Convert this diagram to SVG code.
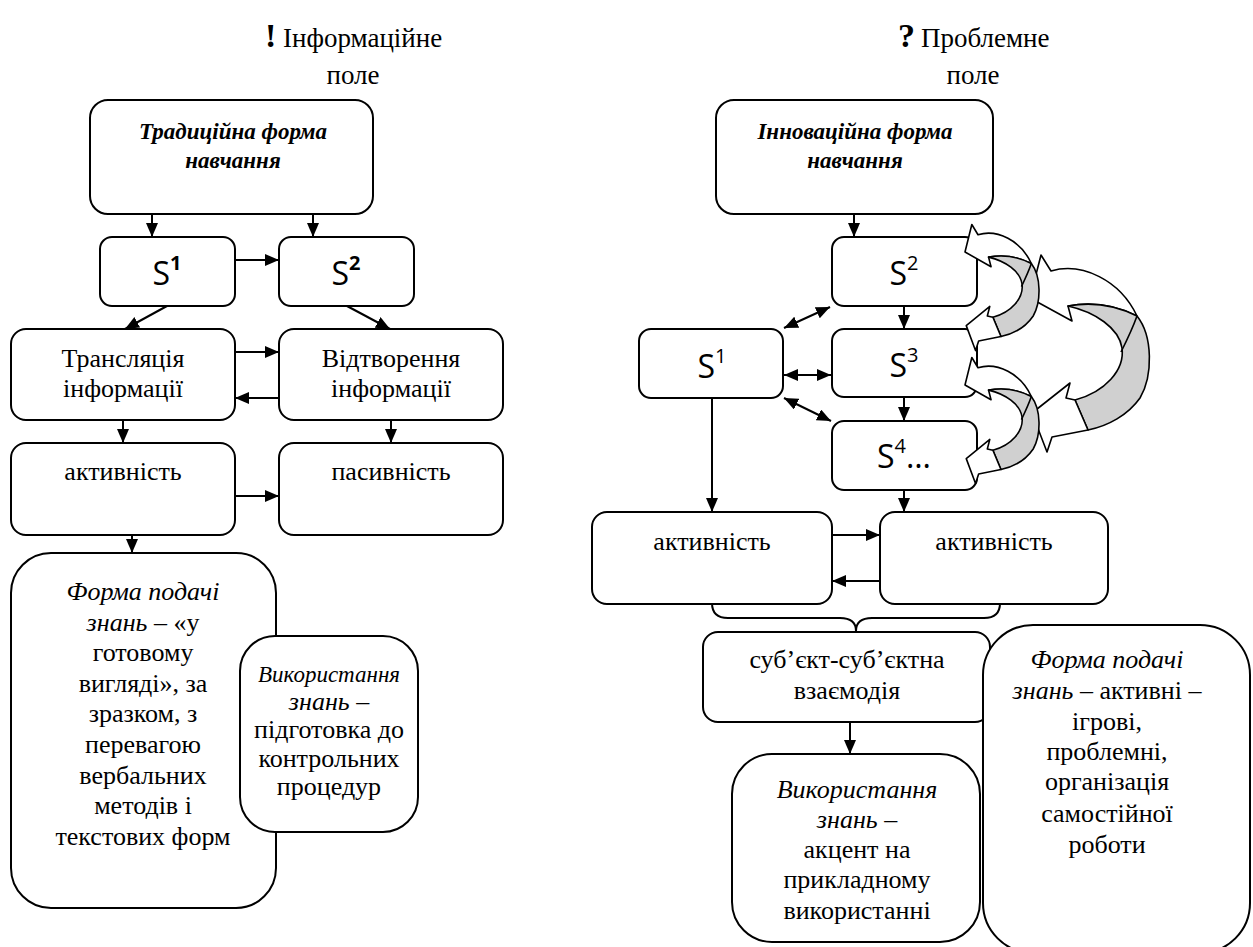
<svg xmlns="http://www.w3.org/2000/svg" width="1253" height="947" viewBox="0 0 1253 947">
  <defs>
    <style>
      .box{fill:#fff;stroke:#000;stroke-width:2}
      .t{font-family:"Liberation Serif","Liberation Sans",sans-serif;font-size:26px;text-anchor:middle;fill:#000}
      .i{font-style:italic}
      .h{font-family:"Liberation Serif","Liberation Sans",sans-serif;font-size:27px;fill:#000}
      .mark{font-family:"Liberation Serif",serif;font-size:34px;font-weight:bold;fill:#000}
      .title{font-family:"Liberation Serif","Liberation Sans",sans-serif;font-size:23px;font-weight:bold;font-style:italic;text-anchor:middle;fill:#000}
      .s{font-family:"Open Sans","Noto Sans",sans-serif;font-size:32px;text-anchor:middle;fill:#000}
      .ln{stroke:#000;stroke-width:2;fill:none}
      .arr{marker-end:url(#ah)}
      .dbl{marker-start:url(#ahs);marker-end:url(#ah)}
      .cw{fill:#fff;stroke:#000;stroke-width:1.6;stroke-linejoin:round;vector-effect:non-scaling-stroke}
      .cg{fill:#d0d0d0;stroke:#000;stroke-width:1.6;stroke-linejoin:round;vector-effect:non-scaling-stroke}
      .fold{fill:none;stroke:#000;stroke-width:1.6;vector-effect:non-scaling-stroke}
    </style>
    <marker id="ah" markerWidth="14" markerHeight="12" refX="14" refY="6" orient="auto" markerUnits="userSpaceOnUse">
      <path d="M0,0 L14,6 L0,12 Z" fill="#000"/>
    </marker>
    <marker id="ahs" markerWidth="14" markerHeight="12" refX="14" refY="6" orient="auto-start-reverse" markerUnits="userSpaceOnUse">
      <path d="M0,0 L14,6 L0,12 Z" fill="#000"/>
    </marker>
    <!-- curved block arrow: white front band, grey back band, two heads -->
    <g id="curl">
      <path class="cw" d="M1030,298 L1041,255 L1051,271 C1082,262 1120,280 1137,316 C1115,305 1090,302 1068,306 L1072,321 Z"/>
      <path class="cg" d="M1068,306 C1090,302 1115,305 1137,316 C1153,336 1153,376 1140,398 C1128,415 1108,426 1088,430 L1075,400 C1105,392 1125,370 1122,348 C1119,328 1095,312 1068,306 Z"/>
      <path class="fold" d="M1137,316 C1132,330 1126,342 1121,352"/>
      <path class="cw" d="M1032,413 L1070,383 L1066,398 L1075,400 L1088,430 L1052,437 L1047,452 Z"/>
    </g>
  </defs>

  <rect width="1253" height="947" fill="#fff"/>

  <!-- headings -->
  <g id="head-left">
    <text class="mark" x="265" y="47">!</text>
    <text class="h" x="283" y="47">Інформаційне</text>
    <text class="h" x="353" y="84" text-anchor="middle">поле</text>
  </g>
  <g id="head-right">
    <text class="mark" x="898" y="47">?</text>
    <text class="h" x="921" y="47">Проблемне</text>
    <text class="h" x="973" y="84" text-anchor="middle">поле</text>
  </g>

  <!-- left column: traditional form -->
  <g id="trad">
    <rect class="box" x="90" y="100" width="283" height="114" rx="18"/>
    <text class="title" x="233" y="139">Традиційна форма</text>
    <text class="title" x="233" y="168">навчання</text>
  </g>
  <g id="l-s1">
    <rect class="box" x="100" y="237" width="135" height="69" rx="12"/>
    <text class="s" x="167" y="285">S<tspan font-size="20" font-weight="bold" dy="-15">1</tspan></text>
  </g>
  <g id="l-s2">
    <rect class="box" x="279" y="237" width="135" height="69" rx="12"/>
    <text class="s" x="346" y="285">S<tspan font-size="20" font-weight="bold" dy="-15">2</tspan></text>
  </g>
  <g id="transl">
    <rect class="box" x="11" y="329" width="224" height="91" rx="15"/>
    <text class="t" x="123" y="367">Трансляція</text>
    <text class="t" x="123" y="397">інформації</text>
  </g>
  <g id="vidtv">
    <rect class="box" x="279" y="329" width="224" height="91" rx="15"/>
    <text class="t" x="391" y="367">Відтворення</text>
    <text class="t" x="391" y="397">інформації</text>
  </g>
  <g id="l-akt">
    <rect class="box" x="11" y="443" width="224" height="92" rx="15"/>
    <text class="t" x="123" y="480">активність</text>
  </g>
  <g id="l-pas">
    <rect class="box" x="279" y="443" width="224" height="92" rx="15"/>
    <text class="t" x="391" y="480">пасивність</text>
  </g>
  <g id="l-forma">
    <rect class="box" x="11" y="553" width="265" height="355" rx="40"/>
    <text class="t" x="143" y="600"><tspan class="i">Форма подачі</tspan></text>
    <text class="t" x="143" y="631"><tspan class="i">знань</tspan> – «у</text>
    <text class="t" x="143" y="661">готовому</text>
    <text class="t" x="143" y="692">вигляді»,  за</text>
    <text class="t" x="143" y="722">зразком, з</text>
    <text class="t" x="143" y="753">перевагою</text>
    <text class="t" x="143" y="784">вербальних</text>
    <text class="t" x="143" y="814">методів і</text>
    <text class="t" x="143" y="845">текстових форм</text>
  </g>
  <g id="l-vykor">
    <rect class="box" x="240" y="636" width="178" height="196" rx="35"/>
    <text class="t" x="329" y="682" style="font-size:23px"><tspan class="i">Використання</tspan></text>
    <text class="t" x="329" y="710"><tspan class="i">знань</tspan> –</text>
    <text class="t" x="329" y="738">підготовка до</text>
    <text class="t" x="329" y="767">контрольних</text>
    <text class="t" x="329" y="795">процедур</text>
  </g>

  <!-- right column: innovative form -->
  <g id="innov">
    <rect class="box" x="716" y="100" width="277" height="114" rx="18"/>
    <text class="title" x="855" y="139">Інноваційна форма</text>
    <text class="title" x="855" y="168">навчання</text>
  </g>
  <g id="r-s2">
    <rect class="box" x="832" y="237" width="145" height="69" rx="12"/>
    <text class="s" x="904" y="285">S<tspan font-size="20" dy="-15">2</tspan></text>
  </g>
  <g id="r-s3">
    <rect class="box" x="832" y="329" width="145" height="68" rx="12"/>
    <text class="s" x="904" y="377">S<tspan font-size="20" dy="-15">3</tspan></text>
  </g>
  <g id="r-s4">
    <rect class="box" x="832" y="421" width="145" height="69" rx="12"/>
    <text class="s" x="904" y="468">S<tspan font-size="20" dy="-15">4</tspan><tspan dy="15">…</tspan></text>
  </g>
  <g id="r-s1">
    <rect class="box" x="639" y="329" width="144" height="69" rx="12"/>
    <text class="s" x="712" y="378">S<tspan font-size="20" dy="-15">1</tspan></text>
  </g>
  <g id="r-akt1">
    <rect class="box" x="592" y="512" width="240" height="92" rx="15"/>
    <text class="t" x="712" y="550">активність</text>
  </g>
  <g id="r-akt2">
    <rect class="box" x="880" y="512" width="228" height="92" rx="15"/>
    <text class="t" x="994" y="550">активність</text>
  </g>
  <g id="subj">
    <rect class="box" x="703" y="632" width="287" height="90" rx="15"/>
    <text class="t" x="847" y="668">суб’єкт-суб’єктна</text>
    <text class="t" x="847" y="699">взаємодія</text>
  </g>
  <g id="r-forma">
    <rect class="box" x="983" y="625" width="267" height="328" rx="50"/>
    <text class="t" x="1107" y="668"><tspan class="i">Форма подачі</tspan></text>
    <text class="t" x="1107" y="699"><tspan class="i">знань</tspan> – активні –</text>
    <text class="t" x="1107" y="730">ігрові,</text>
    <text class="t" x="1107" y="760">проблемні,</text>
    <text class="t" x="1107" y="790">організація</text>
    <text class="t" x="1107" y="822">самостійної</text>
    <text class="t" x="1107" y="853">роботи</text>
  </g>
  <g id="r-vykor">
    <rect class="box" x="732" y="754" width="248" height="188" rx="40"/>
    <text class="t" x="857" y="798"><tspan class="i">Використання</tspan></text>
    <text class="t" x="857" y="828"><tspan class="i">знань</tspan> –</text>
    <text class="t" x="857" y="858">акцент на</text>
    <text class="t" x="857" y="888">прикладному</text>
    <text class="t" x="857" y="919">використанні</text>
  </g>

  <!-- curved feedback arrows beside S2..S4 -->
  <g id="loops">
    <use href="#curl"/>
    <g transform="translate(965,252) scale(0.62,0.64) translate(-1030,-298)">
      <use href="#curl"/>
    </g>
    <g transform="translate(965,385) scale(0.62,0.64) translate(-1030,-298)">
      <use href="#curl"/>
    </g>
  </g>

  <!-- connectors -->
  <g id="connectors" class="ln">
    <line class="arr" x1="152" y1="214" x2="152" y2="237"/>
    <line class="arr" x1="313" y1="214" x2="313" y2="237"/>
    <line class="arr" x1="235" y1="260" x2="279" y2="260"/>
    <line class="arr" x1="167" y1="306" x2="125" y2="329"/>
    <line class="arr" x1="347" y1="306" x2="390" y2="329"/>
    <line class="arr" x1="235" y1="352" x2="279" y2="352"/>
    <line class="arr" x1="279" y1="398" x2="235" y2="398"/>
    <line class="arr" x1="123" y1="420" x2="123" y2="443"/>
    <line class="arr" x1="391" y1="420" x2="391" y2="443"/>
    <line class="arr" x1="235" y1="496" x2="279" y2="496"/>
    <line class="arr" x1="132" y1="535" x2="132" y2="553"/>

    <line class="arr" x1="854" y1="214" x2="854" y2="237"/>
    <line class="arr" x1="904" y1="306" x2="904" y2="329"/>
    <line class="arr" x1="904" y1="397" x2="904" y2="421"/>
    <line class="arr" x1="904" y1="490" x2="904" y2="512"/>
    <line class="dbl" x1="784" y1="328" x2="830" y2="307"/>
    <line class="dbl" x1="784" y1="375" x2="831" y2="375"/>
    <line class="dbl" x1="784" y1="398" x2="831" y2="421"/>
    <line class="arr" x1="712" y1="398" x2="712" y2="512"/>
    <line class="arr" x1="832" y1="535" x2="880" y2="535"/>
    <line class="arr" x1="880" y1="581" x2="832" y2="581"/>
    <path d="M712,603 Q712,618 728,618 L840,618 Q856,618 856,631 Q856,618 872,618 L984,618 Q1000,618 1000,603"/>
    <line class="arr" x1="850" y1="722" x2="850" y2="754"/>
  </g>
</svg>
